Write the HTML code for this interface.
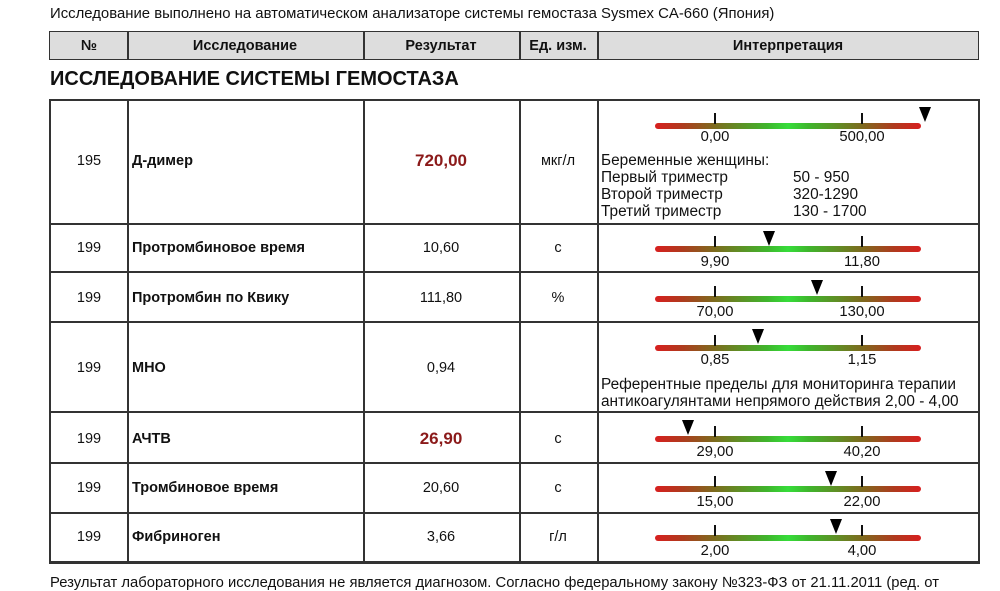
<!DOCTYPE html>
<html><head><meta charset="utf-8"><style>
body{margin:0;width:1000px;height:585px;background:#fff;overflow:hidden;position:relative;font-family:"Liberation Sans",Arial,sans-serif;color:#111}
.a{position:absolute;white-space:nowrap}
.c{position:absolute;transform:translateX(-50%);white-space:nowrap;font-size:14.5px}
.hl{position:absolute;background:#333;height:2px}
.vl{position:absolute;background:#333;width:1.5px}
.bar{position:absolute;left:655px;width:266px;height:6px;border-radius:3px;background:linear-gradient(to right,#d81f1f 0%,#b03a1e 10%,#7e6a1e 22%,#3fb52c 42%,#36dd3a 50%,#3fb52c 58%,#7e6a1e 78%,#b03a1e 90%,#d81f1f 100%)}
.tk{position:absolute;width:2px;height:11px;background:#111}
.tri{position:absolute;width:0;height:0;border-left:6px solid transparent;border-right:6px solid transparent;border-top:15px solid #000}
.lb{position:absolute;transform:translateX(-50%);font-size:14.8px;white-space:nowrap}
.n{font-size:15.4px}
.b{font-weight:bold;font-size:14.5px}
</style></head><body>
<div class="a" style="left:50px;top:6px;font-size:14.9px">Исследование выполнено на автоматическом анализаторе системы гемостаза Sysmex CA-660 (Япония)</div>
<div class="a" style="left:49px;top:31px;width:930px;height:29px;background:#ddd;border:1.5px solid #333;box-sizing:border-box"></div>
<div class="vl" style="left:127px;top:31px;height:29px"></div>
<div class="vl" style="left:363px;top:31px;height:29px"></div>
<div class="vl" style="left:519px;top:31px;height:29px"></div>
<div class="vl" style="left:597px;top:31px;height:29px"></div>
<div class="c b" style="left:89px;top:38px">№</div>
<div class="c b" style="left:245px;top:38px">Исследование</div>
<div class="c b" style="left:441px;top:38px">Результат</div>
<div class="c b" style="left:558px;top:38px">Ед. изм.</div>
<div class="c b" style="left:788px;top:38px">Интерпретация</div>
<div class="a" style="left:50px;top:68px;font-size:20px;font-weight:bold">ИССЛЕДОВАНИЕ СИСТЕМЫ ГЕМОСТАЗА</div>

<div class="hl" style="left:49px;top:99px;width:931px"></div>
<div class="hl" style="left:49px;top:223px;width:931px"></div>
<div class="hl" style="left:49px;top:271px;width:931px"></div>
<div class="hl" style="left:49px;top:321px;width:931px"></div>
<div class="hl" style="left:49px;top:411px;width:931px"></div>
<div class="hl" style="left:49px;top:462px;width:931px"></div>
<div class="hl" style="left:49px;top:512px;width:931px"></div>
<div class="hl" style="left:49px;top:561px;width:931px;height:2.5px"></div>
<div class="vl" style="left:49px;top:99px;height:464px"></div>
<div class="vl" style="left:127px;top:99px;height:464px"></div>
<div class="vl" style="left:363px;top:99px;height:464px"></div>
<div class="vl" style="left:519px;top:99px;height:464px"></div>
<div class="vl" style="left:597px;top:99px;height:464px"></div>
<div class="vl" style="left:978px;top:99px;height:464px"></div>

<!-- row1 -->
<div class="c" style="left:89px;top:153px">195</div>
<div class="a b" style="left:132px;top:153px">Д-димер</div>
<div class="c" style="left:441px;top:151px;font-size:17px;font-weight:bold;color:#8b1a1a">720,00</div>
<div class="c" style="left:558px;top:153px">мкг/л</div>
<div class="bar" style="top:123px"></div><div class="tk" style="left:714px;top:113px"></div><div class="tk" style="left:861px;top:113px"></div>
<div class="tri" style="left:919px;top:107px"></div>
<div class="lb" style="left:715px;top:129px">0,00</div><div class="lb" style="left:862px;top:129px">500,00</div>
<div class="a n" style="left:601px;top:152px">Беременные женщины:</div>
<div class="a n" style="left:601px;top:169px">Первый триместр</div><div class="a n" style="left:793px;top:169px">50 - 950</div>
<div class="a n" style="left:601px;top:186px">Второй триместр</div><div class="a n" style="left:793px;top:186px">320-1290</div>
<div class="a n" style="left:601px;top:203px">Третий триместр</div><div class="a n" style="left:793px;top:203px">130 - 1700</div>

<!-- row2 -->
<div class="c" style="left:89px;top:240px">199</div>
<div class="a b" style="left:132px;top:240px">Протромбиновое время</div>
<div class="c" style="left:441px;top:240px">10,60</div>
<div class="c" style="left:558px;top:240px">с</div>
<div class="bar" style="top:246px"></div><div class="tk" style="left:714px;top:236px"></div><div class="tk" style="left:861px;top:236px"></div>
<div class="tri" style="left:763px;top:231px"></div>
<div class="lb" style="left:715px;top:254px">9,90</div><div class="lb" style="left:862px;top:254px">11,80</div>

<!-- row3 -->
<div class="c" style="left:89px;top:290px">199</div>
<div class="a b" style="left:132px;top:290px">Протромбин по Квику</div>
<div class="c" style="left:441px;top:290px">111,80</div>
<div class="c" style="left:558px;top:290px">%</div>
<div class="bar" style="top:296px"></div><div class="tk" style="left:714px;top:286px"></div><div class="tk" style="left:861px;top:286px"></div>
<div class="tri" style="left:811px;top:280px"></div>
<div class="lb" style="left:715px;top:304px">70,00</div><div class="lb" style="left:862px;top:304px">130,00</div>

<!-- row4 -->
<div class="c" style="left:89px;top:360px">199</div>
<div class="a b" style="left:132px;top:360px">МНО</div>
<div class="c" style="left:441px;top:360px">0,94</div>
<div class="bar" style="top:345px"></div><div class="tk" style="left:714px;top:335px"></div><div class="tk" style="left:861px;top:335px"></div>
<div class="tri" style="left:752px;top:329px"></div>
<div class="lb" style="left:715px;top:352px">0,85</div><div class="lb" style="left:862px;top:352px">1,15</div>
<div class="a n" style="left:601px;top:376px">Референтные пределы для мониторинга терапии</div>
<div class="a n" style="left:601px;top:393px">антикоагулянтами непрямого действия 2,00 - 4,00</div>

<!-- row5 -->
<div class="c" style="left:89px;top:431px">199</div>
<div class="a b" style="left:132px;top:431px">АЧТВ</div>
<div class="c" style="left:441px;top:429px;font-size:17px;font-weight:bold;color:#8b1a1a">26,90</div>
<div class="c" style="left:558px;top:431px">с</div>
<div class="bar" style="top:436px"></div><div class="tk" style="left:714px;top:426px"></div><div class="tk" style="left:861px;top:426px"></div>
<div class="tri" style="left:682px;top:420px"></div>
<div class="lb" style="left:715px;top:444px">29,00</div><div class="lb" style="left:862px;top:444px">40,20</div>

<!-- row6 -->
<div class="c" style="left:89px;top:480px">199</div>
<div class="a b" style="left:132px;top:480px">Тромбиновое время</div>
<div class="c" style="left:441px;top:480px">20,60</div>
<div class="c" style="left:558px;top:480px">с</div>
<div class="bar" style="top:486px"></div><div class="tk" style="left:714px;top:476px"></div><div class="tk" style="left:861px;top:476px"></div>
<div class="tri" style="left:825px;top:471px"></div>
<div class="lb" style="left:715px;top:494px">15,00</div><div class="lb" style="left:862px;top:494px">22,00</div>

<!-- row7 -->
<div class="c" style="left:89px;top:529px">199</div>
<div class="a b" style="left:132px;top:529px">Фибриноген</div>
<div class="c" style="left:441px;top:529px">3,66</div>
<div class="c" style="left:558px;top:529px">г/л</div>
<div class="bar" style="top:535px"></div><div class="tk" style="left:714px;top:525px"></div><div class="tk" style="left:861px;top:525px"></div>
<div class="tri" style="left:830px;top:519px"></div>
<div class="lb" style="left:715px;top:543px">2,00</div><div class="lb" style="left:862px;top:543px">4,00</div>

<div class="a" style="left:50px;top:575px;font-size:14.8px">Результат лабораторного исследования не является диагнозом. Согласно федеральному закону №323-ФЗ от 21.11.2011 (ред. от</div>
</body></html>
